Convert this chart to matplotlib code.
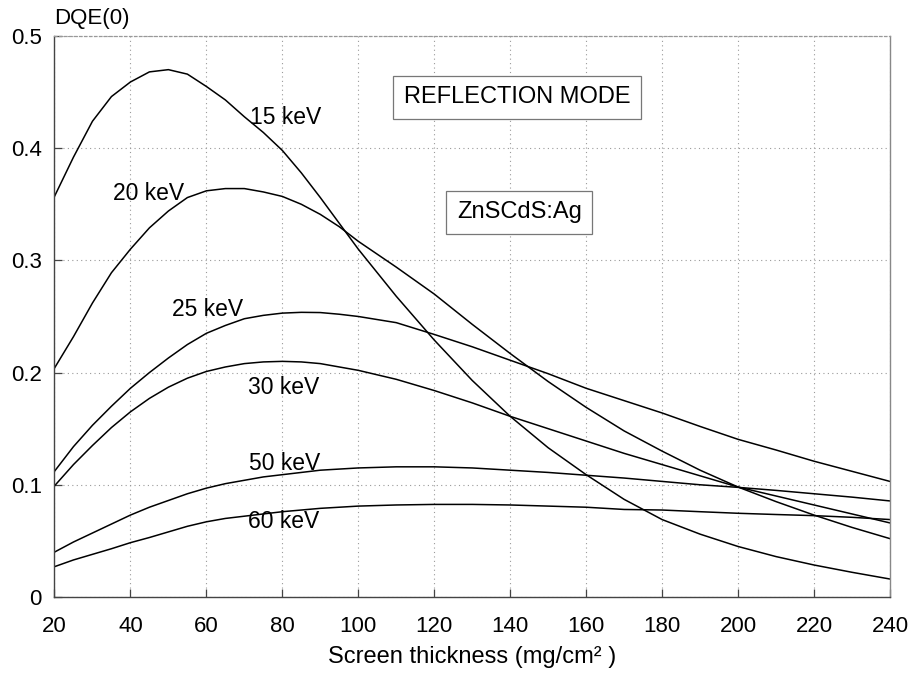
import matplotlib
matplotlib.use('Agg')
import matplotlib.pyplot as plt
from matplotlib import font_manager

# pick a narrow face for the axis label if the system has one
names = {f.name for f in font_manager.fontManager.ttflist}
MAIN_FONT = 'Liberation Sans' if 'Liberation Sans' in names else 'DejaVu Sans'
NARROW_FONT = 'Liberation Sans Narrow' if 'Liberation Sans Narrow' in names else MAIN_FONT
plt.rcParams['font.family'] = [MAIN_FONT, 'DejaVu Sans']

# screen thickness (mg/cm^2)
thickness = [20, 25, 30, 35, 40, 45, 50, 55, 60, 65, 70, 75, 80, 85, 90, 95, 100, 110, 120,
             130, 140, 150, 160, 170, 180, 190, 200, 210, 220, 230, 240]

dqe_15 = [0.357, 0.392, 0.424, 0.446, 0.459, 0.468, 0.470, 0.466, 0.455, 0.443, 0.428,
          0.414, 0.398, 0.378, 0.356, 0.333, 0.310, 0.268, 0.229, 0.193, 0.161, 0.133,
          0.109, 0.087, 0.069, 0.056, 0.045, 0.036, 0.0285, 0.022, 0.016]
dqe_20 = [0.204, 0.232, 0.262, 0.289, 0.310, 0.329, 0.344, 0.356, 0.362, 0.364, 0.364,
          0.361, 0.357, 0.350, 0.341, 0.330, 0.317, 0.294, 0.270, 0.243, 0.217, 0.192,
          0.169, 0.148, 0.130, 0.113, 0.098, 0.085, 0.073, 0.062, 0.052]
dqe_25 = [0.112, 0.134, 0.153, 0.170, 0.186, 0.200, 0.213, 0.225, 0.235, 0.242, 0.248,
          0.251, 0.253, 0.2537, 0.2535, 0.252, 0.250, 0.2445, 0.234, 0.223, 0.211, 0.199,
          0.186, 0.175, 0.164, 0.152, 0.1405, 0.131, 0.121, 0.112, 0.103]
dqe_30 = [0.099, 0.118, 0.135, 0.151, 0.165, 0.177, 0.187, 0.195, 0.201, 0.205, 0.208,
          0.2095, 0.210, 0.2095, 0.208, 0.205, 0.202, 0.194, 0.184, 0.173, 0.161, 0.150,
          0.139, 0.128, 0.118, 0.108, 0.098, 0.090, 0.082, 0.074, 0.066]
dqe_50 = [0.040, 0.049, 0.057, 0.065, 0.073, 0.080, 0.086, 0.092, 0.097, 0.101, 0.104,
          0.107, 0.109, 0.111, 0.113, 0.114, 0.115, 0.116, 0.116, 0.115, 0.113, 0.111,
          0.1085, 0.106, 0.103, 0.100, 0.0977, 0.095, 0.092, 0.089, 0.0856]
dqe_60 = [0.027, 0.033, 0.038, 0.043, 0.0484, 0.053, 0.058, 0.063, 0.067, 0.070, 0.072,
          0.074, 0.076, 0.0775, 0.079, 0.080, 0.081, 0.082, 0.0825, 0.0825, 0.082, 0.081,
          0.080, 0.078, 0.0775, 0.076, 0.0746, 0.0735, 0.0725, 0.071, 0.069]

series = [dqe_15, dqe_20, dqe_25, dqe_30, dqe_50, dqe_60]
labels = ['15 keV', '20 keV', '25 keV', '30 keV', '50 keV', '60 keV']
label_x = [71.6, 35.5, 50.9, 70.9, 71.1, 70.9]
label_y = [0.427, 0.360, 0.256, 0.187, 0.119, 0.067]

x_ticks = [20, 40, 60, 80, 100, 120, 140, 160, 180, 200, 220, 240]
y_ticks = [0, 0.1, 0.2, 0.3, 0.4, 0.5]
y_tick_labels = ['0', '0.1', '0.2', '0.3', '0.4', '0.5']

fig = plt.figure(figsize=(9.14, 6.79), dpi=100)
ax = fig.add_axes([0.0596, 0.1208, 0.9141, 0.8262])

for values in series:
    ax.plot(thickness, values, color='black', linewidth=1.1)

for lab, lx, ly in zip(labels, label_x, label_y):
    ax.text(lx, ly, lab, ha='left', va='center', fontsize=16.5)

box_style = dict(boxstyle='square,pad=0.45', facecolor='white', edgecolor='#777777', linewidth=0.9)
ax.text(141.9, 0.4452, 'REFLECTION MODE', ha='center', va='center', fontsize=17, bbox=box_style)
ax.text(142.4, 0.343, 'ZnSCdS:Ag', ha='center', va='center', fontsize=17, bbox=box_style)

ax.set_xlim(20, 240)
ax.set_ylim(0, 0.5)
ax.set_xticks(x_ticks)
ax.set_yticks(y_ticks)
ax.set_yticklabels(y_tick_labels)
ax.tick_params(direction='in', length=6, width=0.9, color='#444444', labelsize=16, pad=9)
ax.tick_params(axis='x', pad=14)
ax.grid(True, color='#9a9a9a', linestyle=(0, (1, 3)), linewidth=0.8)

for side in ['left', 'bottom']:
    ax.spines[side].set_color('#444444')
    ax.spines[side].set_linewidth(1.0)
ax.spines['right'].set_color('#888888')
ax.spines['right'].set_linewidth(1.0)
ax.spines['top'].set_color('#999999')
ax.spines['top'].set_linestyle((0, (2, 2)))
ax.spines['top'].set_linewidth(0.9)

ax.set_xlabel('Screen thickness (mg/cm² )', fontsize=17, family=[NARROW_FONT, 'DejaVu Sans'], labelpad=6)
ax.text(0.0, 1.012, 'DQE(0)', transform=ax.transAxes, ha='left', va='bottom', fontsize=16)

fig.savefig('out.png', dpi=100)
